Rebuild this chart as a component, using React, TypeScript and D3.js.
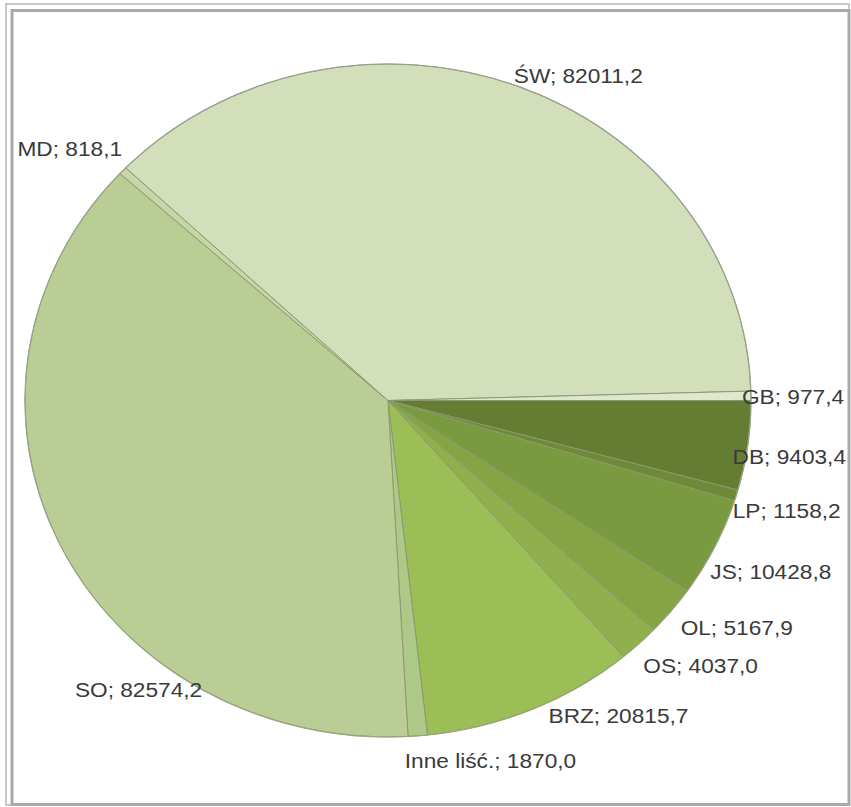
import React from 'react';
import * as d3 from 'd3';

const WIDTH = 851;
const HEIGHT = 807;
const CENTER = { x: 388, y: 400.5 };
const RX = 363;
const RY = 336.5;
const LABEL_GAP = 12;

const CATEGORIES = ['DB', 'LP', 'JS', 'OL', 'OS', 'BRZ', 'Inne liść.', 'SO', 'MD', 'ŚW', 'GB'];
const VALUES = [9403.4, 1158.2, 10428.8, 5167.9, 4037.0, 20815.7, 1870.0, 82574.2, 818.1, 82011.2, 977.4];
const COLORS = [
  '#647d32',
  '#6e8a38',
  '#7a9a3f',
  '#85a545',
  '#8fb04c',
  '#9bbe57',
  '#aec987',
  '#b9cd94',
  '#c6d6a8',
  '#d3deba',
  '#dfe7cf',
];
// small nudges so labels sit where the original placed them
const LABEL_NUDGE: [number, number][] = [
  [-27, 9],
  [-15, 12],
  [-15, 19],
  [0, 9],
  [-4, 13],
  [12, -5],
  [-14, 13],
  [153, 140],
  [8, -14],
  [-9, 0],
  [-21, 1],
];

const fmt = (v: number) => d3.format('.1f')(v).replace('.', ',');

export default function App() {
  const pie = d3
    .pie<number>()
    .sort(null)
    .startAngle(Math.PI / 2)
    .endAngle(Math.PI / 2 + 2 * Math.PI);
  const arcs = pie(VALUES);
  const arc = d3.arc<d3.PieArcDatum<number>>().innerRadius(0).outerRadius(RY);

  const slices = arcs.map((a, i) => (
    <path
      key={i}
      d={arc(a) || ''}
      fill={COLORS[i]}
      stroke="#8a9a6e"
      strokeWidth={1}
      vectorEffect="non-scaling-stroke"
    />
  ));

  const labels = arcs.map((a, i) => {
    const mid = (a.startAngle + a.endAngle) / 2;
    const s = Math.sin(mid);
    const c = Math.cos(mid);
    const x = CENTER.x + s * (RX + LABEL_GAP) + LABEL_NUDGE[i][0];
    const y = CENTER.y - c * (RY + LABEL_GAP) + LABEL_NUDGE[i][1];
    return (
      <text
        key={i}
        transform={`translate(${x},${y}) scale(1.08,1)`}
        textAnchor={s >= 0 ? 'start' : 'end'}
        dominantBaseline="central"
        fontFamily="'Liberation Sans', Arial, sans-serif"
        fontSize={21}
        fill="#3a3a3a"
      >
        {`${CATEGORIES[i]}; ${fmt(VALUES[i])}`}
      </text>
    );
  });

  return (
    <svg
      width={WIDTH}
      height={HEIGHT}
      style={{ position: 'absolute', left: 0, top: 0, background: '#fff' }}
    >
      <rect x={6} y={4} width={843} height={801} fill="none" stroke="#c8c8c8" strokeWidth={2} />
      <rect x={12} y={10.5} width={837} height={794} fill="none" stroke="#a9a9a9" strokeWidth={3} />
      <g transform={`translate(${CENTER.x},${CENTER.y}) scale(${RX / RY},1)`}>
        {slices}
        <ellipse cx={0} cy={0} rx={RY} ry={RY} fill="none" stroke="#9ba38c" strokeWidth={1.2} vectorEffect="non-scaling-stroke" />
      </g>
      {labels}
    </svg>
  );
}
